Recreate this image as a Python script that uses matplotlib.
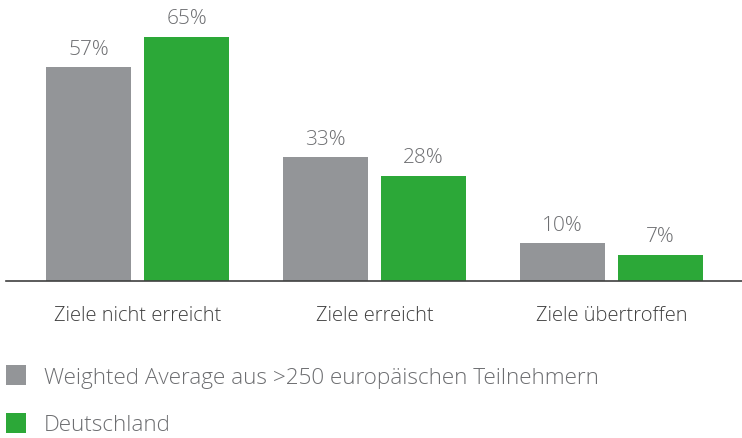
import matplotlib
matplotlib.use("Agg")
import matplotlib.pyplot as plt
import numpy as np

plt.rcParams['font.family'] = ['Open Sans', 'DejaVu Sans']

categories = ['Ziele nicht erreicht', 'Ziele erreicht', 'Ziele übertroffen']
series_names = ['Weighted Average aus >250 europäischen Teilnehmern', 'Deutschland']
europe = [57, 33, 10]
germany = [65, 28, 7]

grey = '#939598'
green = '#2ca838'
txt = '#6d6e71'

fig = plt.figure(figsize=(7.42, 4.39), dpi=100)
ax = fig.add_axes([6/742, 157/439, 736/742, 263/439])

x = np.arange(len(categories))
w = 0.359
off = 0.207
b1 = ax.bar(x - off, europe, w, color=grey, label=series_names[0])
b2 = ax.bar(x + off, germany, w, color=green, label=series_names[1])

# value labels above bars
for bars, vals in ((b1, europe), (b2, germany)):
    for r, v in zip(bars, vals):
        ax.annotate(f'{v}%', (r.get_x() + r.get_width()/2, r.get_height()),
                    xytext=(0, 6), textcoords='offset points',
                    ha='center', va='bottom', fontsize=15, color=txt, fontweight='light')

ax.set_xlim(-0.555, 2.551)
ax.set_ylim(0, 70)
for s in ['top', 'right', 'left']:
    ax.spines[s].set_visible(False)
ax.spines['bottom'].set_color('#404040')
ax.spines['bottom'].set_linewidth(1.2)
ax.set_yticks([])
ax.set_xticks(x)
ax.set_xticklabels(categories, fontsize=14.5, color='#404040', fontweight='light')
ax.tick_params(axis='x', length=0, pad=17)

fig.legend(handles=[b1, b2], loc='upper left', bbox_to_anchor=(6/742, 1 - 366/439),
           frameon=False, handlelength=0.9, handleheight=1.0,
           handletextpad=0.8, labelspacing=1.1, borderaxespad=0, borderpad=0,
           labelcolor=txt, prop={'weight': 'light', 'size': 16.2})

fig.savefig('out.png', dpi=100)
